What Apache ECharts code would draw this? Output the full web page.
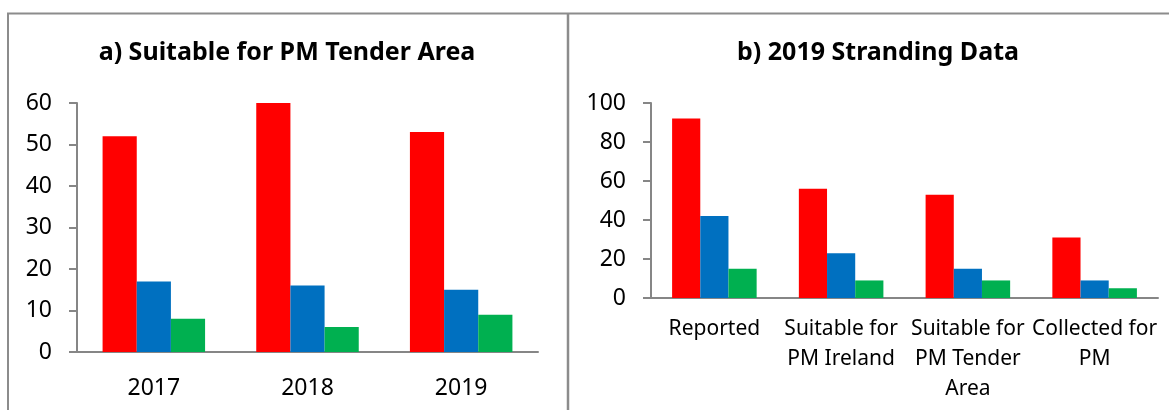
<!DOCTYPE html>
<html>
<head>
<meta charset="utf-8">
<script src="https://cdn.jsdelivr.net/npm/echarts@6/dist/echarts.min.js"></script>
<style>
    html, body { margin: 0; padding: 0; background: #fff; }
    #chart { width: 1169px; height: 410px; }
</style>
</head>
<body>
<div id="chart"></div>
<script>
// panel a) data
const yearsA = ['2017', '2018', '2019'];
const redA = [52, 60, 53];
const blueA = [17, 16, 15];
const greenA = [8, 6, 9];

// panel b) data
const stagesB = ['Reported', 'Suitable for\nPM Ireland', 'Suitable for\nPM Tender\nArea', 'Collected for\nPM'];
const redB = [92, 56, 53, 31];
const blueB = [42, 23, 15, 9];
const greenB = [15, 9, 9, 5];

const titleA = 'a) Suitable for PM Tender Area';
const titleB = 'b) 2019 Stranding Data';

const colors = ['#ff0000', '#0070c0', '#00b050'];
const font = 'Noto Sans';
const axisGray = '#868686';
const frameGray = '#8c8c8c';

function valueAxis(gridIndex, max, interval) {
    return {
        type: 'value',
        gridIndex: gridIndex,
        min: 0,
        max: max,
        interval: interval,
        splitLine: { show: false },
        axisLine: { show: true, lineStyle: { color: axisGray, width: 2 } },
        axisTick: { show: true, length: 8, lineStyle: { color: axisGray, width: 2 } },
        axisLabel: { fontFamily: font, fontSize: 23, color: '#000', margin: 25 }
    };
}

function categoryAxis(gridIndex, data, margin, size) {
    return {
        type: 'category',
        gridIndex: gridIndex,
        data: data,
        axisLine: { lineStyle: { color: axisGray, width: 2 } },
        axisTick: { length: 7, lineStyle: { color: axisGray, width: 2 } },
        axisLabel: {
            interval: 0,
            fontFamily: font,
            fontSize: size,
            lineHeight: 30,
            color: '#000',
            margin: margin
        }
    };
}

function barSeries(index, data, c) {
    return {
        type: 'bar',
        xAxisIndex: index,
        yAxisIndex: index,
        data: data,
        barGap: '0%',
        barCategoryGap: '33.3%',
        itemStyle: { color: colors[c] },
        emphasis: { disabled: true }
    };
}

function initChart() {
    const chart = echarts.init(document.getElementById('chart'));
    const titleStyle = { fontFamily: font, fontSize: 25, fontWeight: 'bold', color: '#000' };
    const option = {
        animation: false,
        title: [
            { text: titleA, left: 287, top: 40, textAlign: 'center', padding: 0, textStyle: titleStyle },
            { text: titleB, left: 878, top: 40, textAlign: 'center', padding: 0, textStyle: titleStyle }
        ],
        grid: [
            { left: 77, top: 103, width: 461, height: 249 },
            { left: 651, top: 103, width: 507, height: 195 }
        ],
        xAxis: [categoryAxis(0, yearsA, 21, 23), categoryAxis(1, stagesB, 16, 21)],
        yAxis: [valueAxis(0, 60, 10), valueAxis(1, 100, 20)],
        series: [
            barSeries(0, redA, 0),
            barSeries(0, blueA, 1),
            barSeries(0, greenA, 2),
            barSeries(1, redB, 0),
            barSeries(1, blueB, 1),
            barSeries(1, greenB, 2)
        ],
        graphic: [
            { type: 'line', shape: { x1: 7, y1: 13.5, x2: 1169, y2: 13.5 }, style: { stroke: frameGray, lineWidth: 2 } },
            { type: 'line', shape: { x1: 8, y1: 13, x2: 8, y2: 410 }, style: { stroke: frameGray, lineWidth: 2 } },
            { type: 'line', shape: { x1: 568, y1: 13, x2: 568, y2: 410 }, style: { stroke: frameGray, lineWidth: 2.5 } }
        ]
    };
    chart.setOption(option);
}

document.addEventListener('DOMContentLoaded', function () {
    initChart();
});
</script>
</body>
</html>
